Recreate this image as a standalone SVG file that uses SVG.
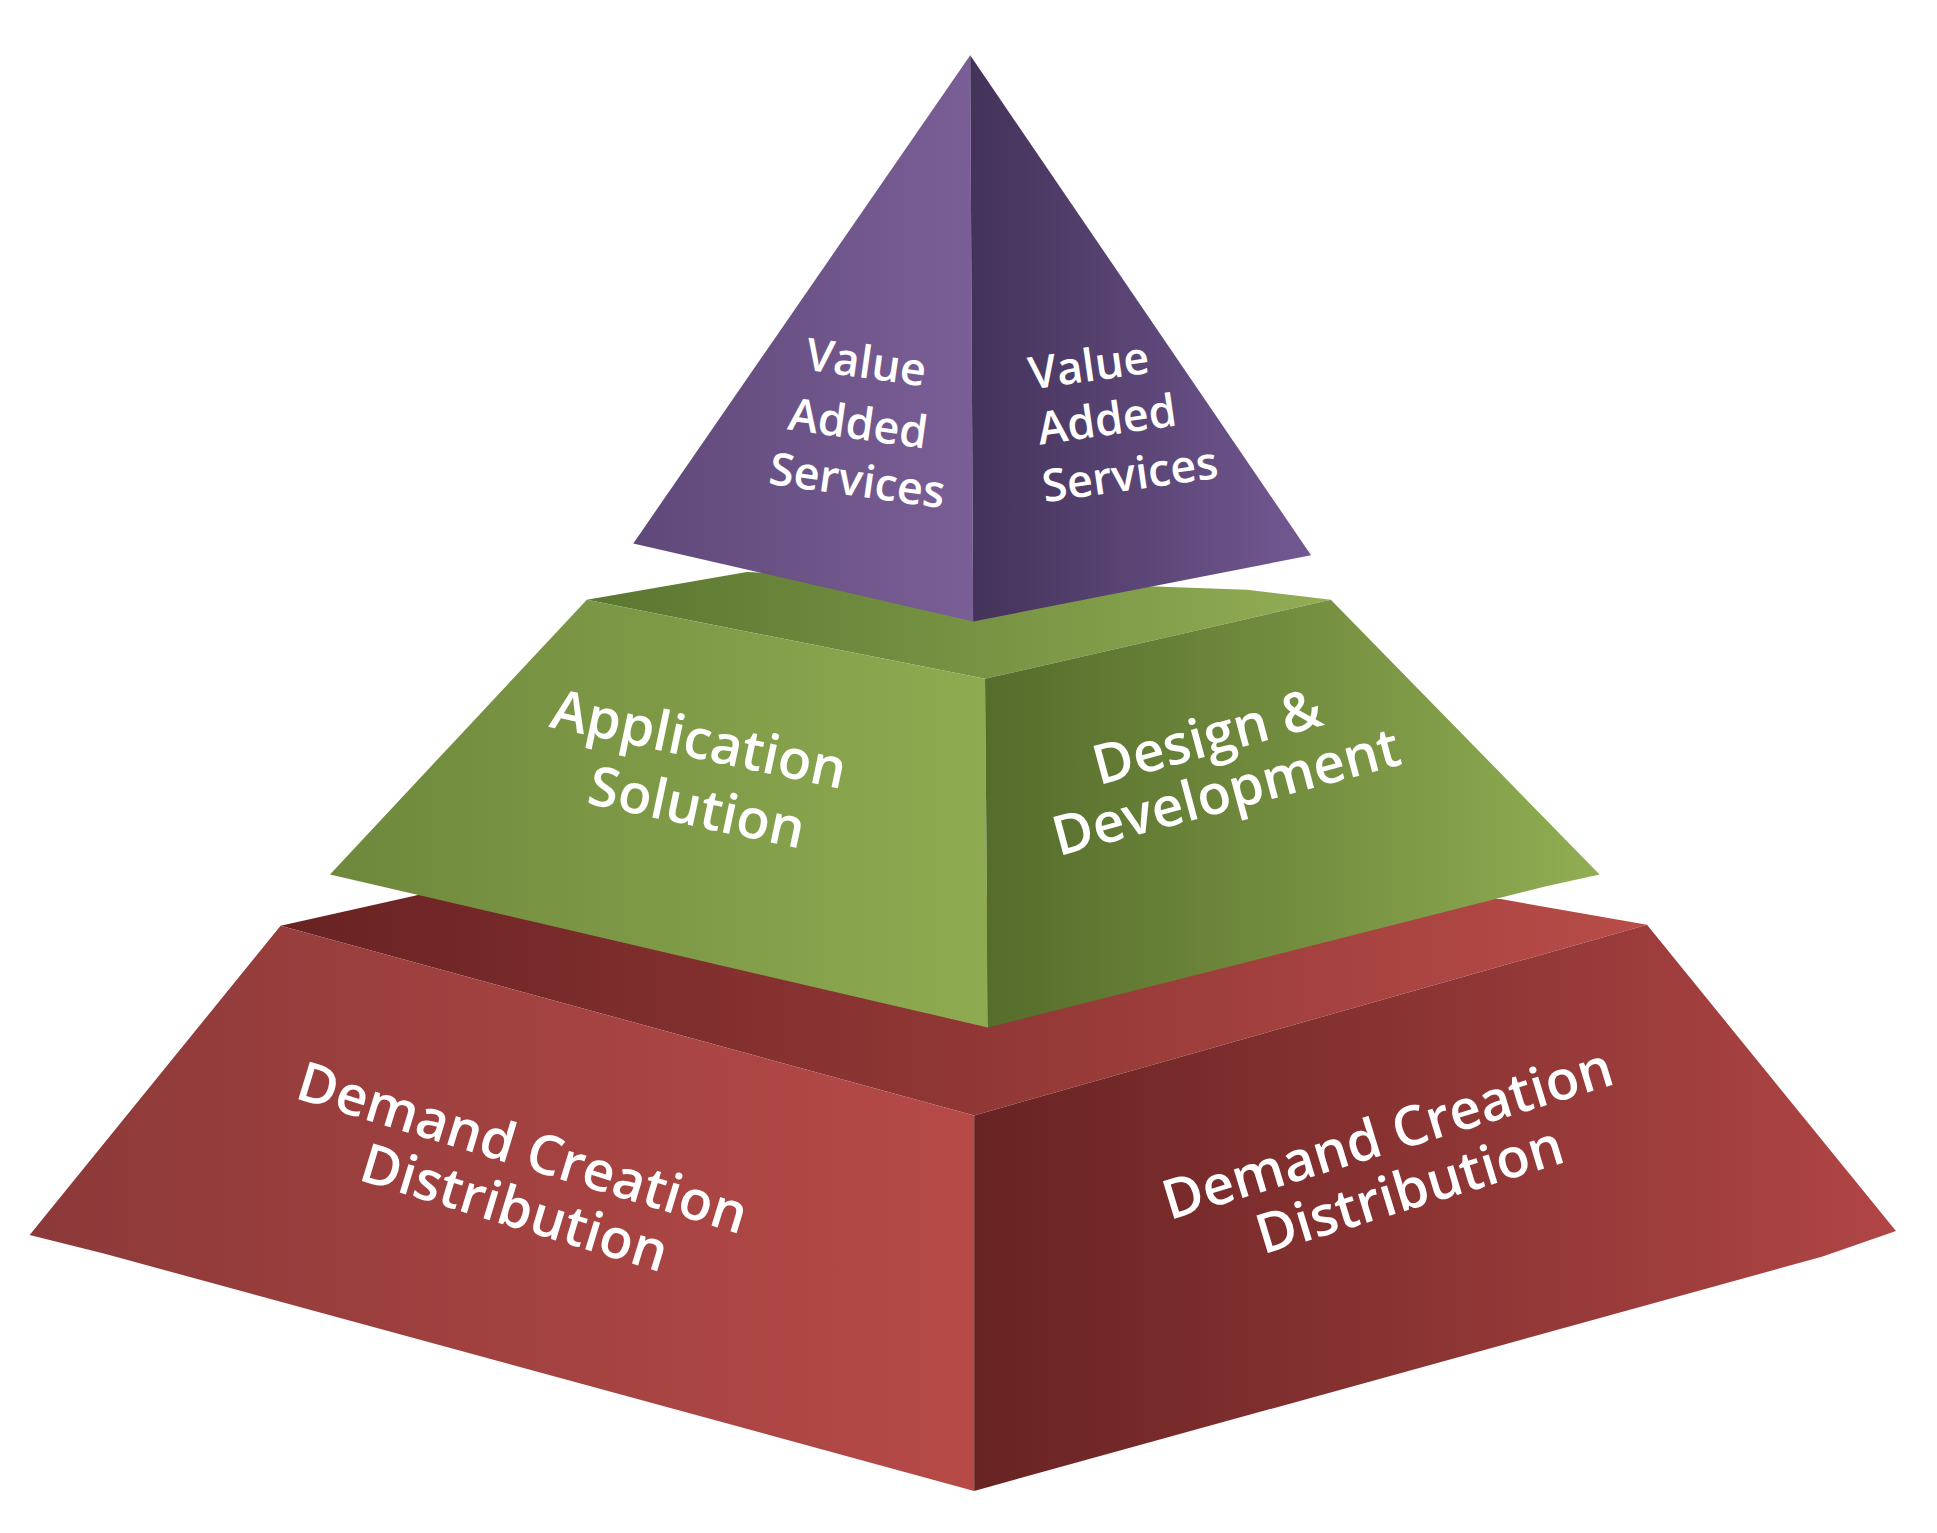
<svg xmlns="http://www.w3.org/2000/svg" width="1937" height="1533" viewBox="0 0 1937 1533">
<defs>
<linearGradient id="pL" x1="0" x2="1" y1="0" y2="0"><stop offset="0" stop-color="#5f4879"/><stop offset="1" stop-color="#7a5f96"/></linearGradient>
<linearGradient id="pR" x1="0" x2="1" y1="0" y2="0"><stop offset="0" stop-color="#433259"/><stop offset="1" stop-color="#735993"/></linearGradient>
<linearGradient id="gT" x1="0" x2="1" y1="0" y2="0"><stop offset="0" stop-color="#5a7630"/><stop offset="1" stop-color="#92ad54"/></linearGradient>
<linearGradient id="gL" x1="0" x2="1" y1="0" y2="0"><stop offset="0" stop-color="#6e883c"/><stop offset="1" stop-color="#8fab51"/></linearGradient>
<linearGradient id="gR" x1="0" x2="1" y1="0" y2="0"><stop offset="0" stop-color="#556c2b"/><stop offset="1" stop-color="#91ae53"/></linearGradient>
<linearGradient id="rT" x1="0" x2="1" y1="0" y2="0"><stop offset="0" stop-color="#682222"/><stop offset="1" stop-color="#b84c48"/></linearGradient>
<linearGradient id="rL" x1="0" x2="1" y1="0" y2="0"><stop offset="0" stop-color="#8c3939"/><stop offset="1" stop-color="#b64a47"/></linearGradient>
<linearGradient id="rR" x1="0" x2="1" y1="0" y2="0"><stop offset="0" stop-color="#682323"/><stop offset="1" stop-color="#b04645"/></linearGradient>
</defs>
<style>
text{font-family:"Open Sans","Noto Sans",sans-serif;font-weight:600;fill:#fff;font-size:55px;text-anchor:middle}
.p{font-size:45px}
</style>
<rect width="1937" height="1533" fill="#fff"/>
<g id="tier-bottom">
<g transform="scale(0.988)">
<polygon points="284,937 431,904 1519,910 1667,936 986,1129" fill="url(#rT)"/>
<polygon points="284,937 986,1129 986,1509 106,1269 30,1250" fill="url(#rL)"/>
<polygon points="986,1129 1667,936 1919,1246 1844,1272 986,1509" fill="url(#rR)"/>
</g>
<text transform="translate(517,1166) rotate(17)">Demand Creation</text>
<text transform="translate(509,1226) rotate(17)">Distribution</text>
<text transform="translate(1393,1152) rotate(-17)">Demand Creation</text>
<text transform="translate(1415,1208) rotate(-17)">Distribution</text>
</g>
<g id="tier-middle">
<g transform="scale(0.988)">
<polygon points="594,607 756,579 1262,597 1347,607 997,687" fill="url(#gT)"/>
<polygon points="594,607 997,687 1000,1040 334,885" fill="url(#gL)"/>
<polygon points="997,687 1347,607 1619,885 1565,897 1000,1040" fill="url(#gR)"/>
</g>
<text transform="translate(695,758) rotate(12)">Application</text>
<text transform="translate(693,826) rotate(12)">Solution</text>
<text transform="translate(1212,755) rotate(-15)">Design &amp;</text>
<text transform="translate(1231,810) rotate(-15)">Development</text>
</g>
<g id="tier-top">
<g transform="scale(0.988)">
<polygon points="982,56 985,629 641,550" fill="url(#pL)"/>
<polygon points="982,56 1327,562 985,629" fill="url(#pR)"/>
</g>
<text class="p" transform="translate(864,378) rotate(8)">Value</text>
<text class="p" transform="translate(856,439) rotate(8)">Added</text>
<text class="p" transform="translate(855,496) rotate(8)">Services</text>
<text class="p" transform="translate(1091,381) rotate(-8)">Value</text>
<text class="p" transform="translate(1109,435) rotate(-8)">Added</text>
<text class="p" transform="translate(1132,490) rotate(-8)">Services</text>
</g>
<g id="connectors"/>
</svg>
